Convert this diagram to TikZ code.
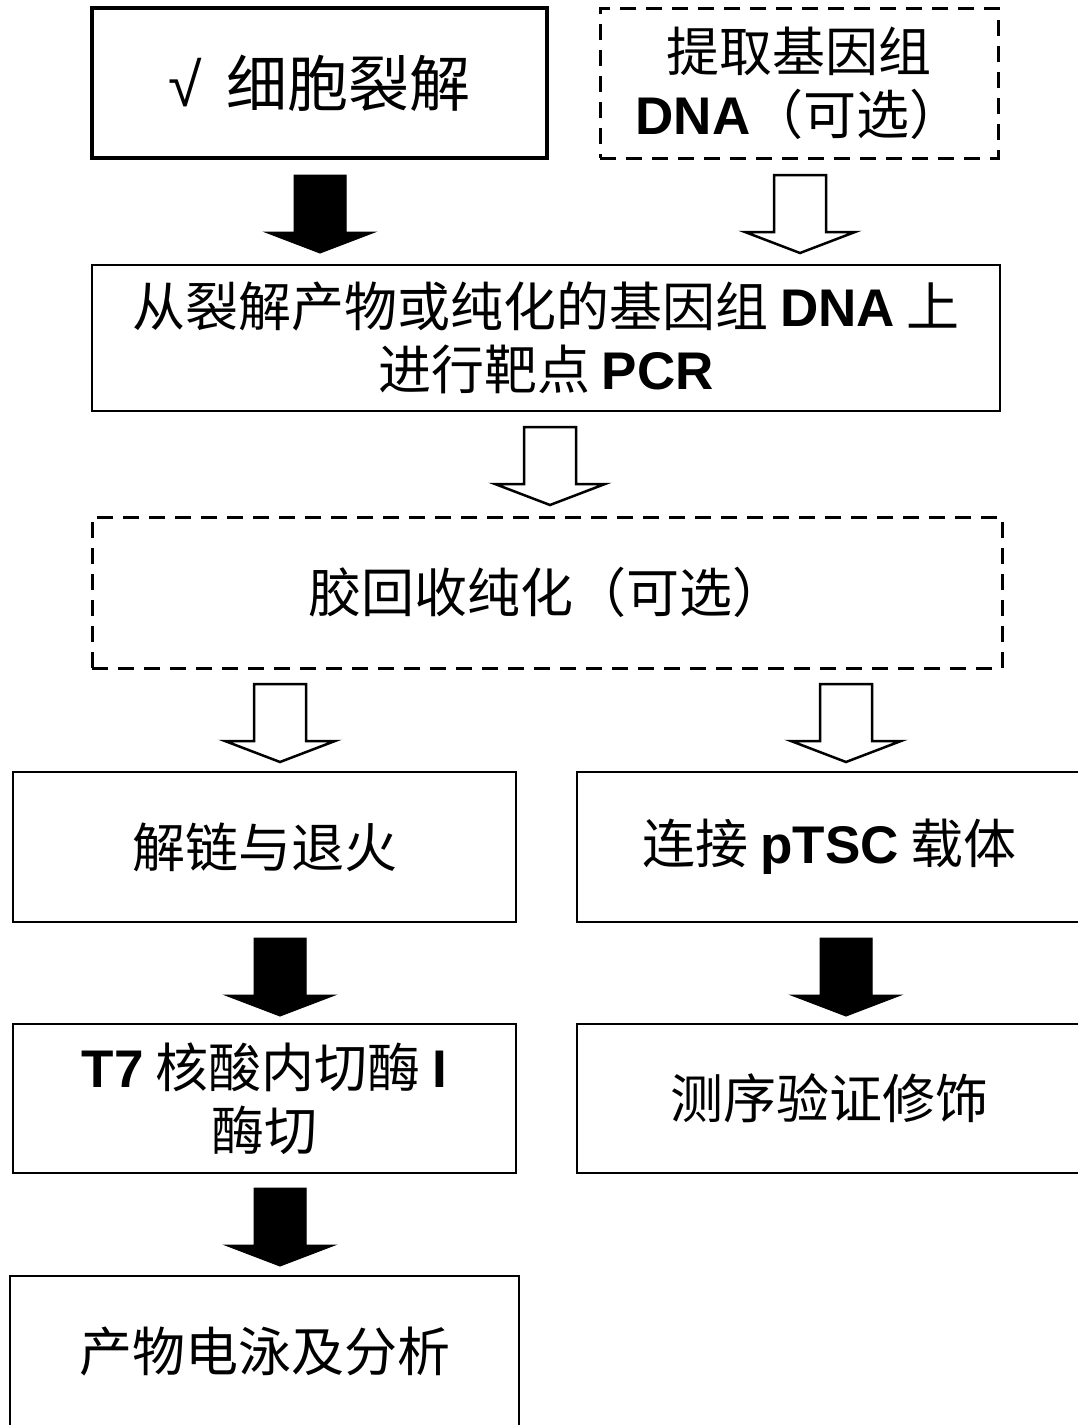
\documentclass[tikz,border=0pt]{standalone}
\usepackage{fontspec}
\setmainfont{Noto Sans CJK SC}
\newfontfamily\arial{Liberation Sans}
\newcommand\lat[1]{{\arial\bfseries #1}}
\usetikzlibrary{calc}
\begin{document}
\begin{tikzpicture}[x=1pt,y=-1pt,
  box/.style={draw, line width=2pt, inner sep=0pt, align=center,
    font=\fontsize{53}{63}\selectfont},
  thickbox/.style={box, line width=3.3pt},
  dbox/.style={box, line width=3pt, dash pattern=on 16pt off 10pt},
  blockarr/.pic={\path[pic actions] (-26,0) -- (26,0) -- (26,57) -- (55,57)
     -- (0,78) -- (-55,57) -- (-26,57) -- cycle;},
  solidarr/.style={fill=black, draw=black, line width=1pt, line join=miter},
  hollowarr/.style={fill=white, draw=black, line width=2.5pt, line join=miter}]
\useasboundingbox (0,0) rectangle (1078,1425);
\fill[white] (0,0) rectangle (1078,1425);

% boxes
\node[thickbox, minimum width=455pt, minimum height=150pt,
  font=\fontsize{61}{63}\selectfont] (b1) at (319.5,83)
  {{\arial √}\hspace{10pt} 细胞裂解};
\node[dbox, minimum width=398pt, minimum height=150pt] (b2) at (799,83)
  {提取基因组\\\lat{DNA}（可选）};
\node[box, minimum width=908pt, minimum height=146pt] (b3) at (546,338)
  {从裂解产物或纯化的基因组 \lat{DNA} 上\\进行靶点 \lat{PCR}};
\node[dbox, minimum width=910pt, minimum height=151pt] (b4) at (547,592.5)
  {胶回收纯化（可选）};
\node[box, minimum width=503pt, minimum height=150pt] (b5) at (264.5,847)
  {解链与退火};
\node[box, minimum width=505pt, minimum height=150pt] (b6) at (829.5,847)
  {连接 \lat{pTSC} 载体};
\node[box, minimum width=503pt, minimum height=149pt] (b7) at (264.5,1098.5)
  {\lat{T7} 核酸内切酶 \lat{I}\\酶切};
\node[box, minimum width=505pt, minimum height=149pt] (b8) at (829.5,1098.5)
  {测序验证修饰};
\node[box, minimum width=509pt, minimum height=152pt] (b9) at (264.5,1352)
  {产物电泳及分析};

% block arrows (top centre of each shaft)
\coordinate (a1) at (320,175);
\coordinate (a2) at (800,175);
\coordinate (a3) at (550,427);
\coordinate (a4) at (280,684);
\coordinate (a5) at (846,684);
\coordinate (a6) at (280,938);
\coordinate (a7) at (846,938);
\coordinate (a8) at (280,1188);

\pic[solidarr] at (a1) {blockarr};
\pic[hollowarr] at (a2) {blockarr};
\pic[hollowarr] at (a3) {blockarr};
\pic[hollowarr] at (a4) {blockarr};
\pic[hollowarr] at (a5) {blockarr};
\pic[solidarr] at (a6) {blockarr};
\pic[solidarr] at (a7) {blockarr};
\pic[solidarr] at (a8) {blockarr};
\end{tikzpicture}
\end{document}
